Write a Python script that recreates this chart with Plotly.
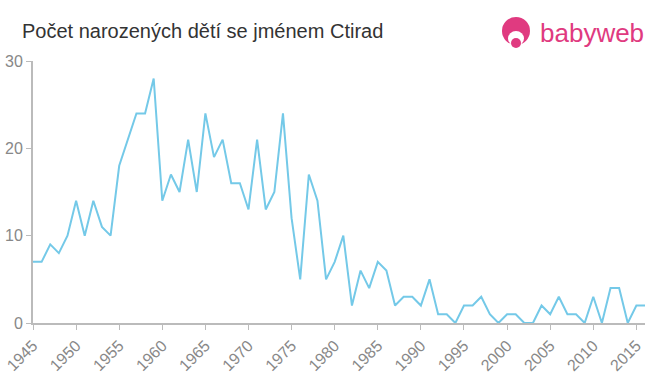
import plotly.graph_objects as go

years = list(range(1945, 2017))
counts = [7, 7, 9, 8, 10, 14, 10, 14, 11, 10,
          18, 21, 24, 24, 28, 14, 17, 15, 21, 15,
          24, 19, 21, 16, 16, 13, 21, 13, 15, 24,
          12, 5, 17, 14, 5, 7, 10, 2, 6, 4,
          7, 6, 2, 3, 3, 2, 5, 1, 1, 0,
          2, 2, 3, 1, 0, 1, 1, 0, 0, 2,
          1, 3, 1, 1, 0, 3, 0, 4, 4, 0,
          2, 2]
x_ticks = list(range(1945, 2020, 5))
y_ticks = [0, 10, 20, 30]

fig = go.Figure()
fig.add_trace(go.Scatter(x=years, y=counts, mode="lines",
                         line=dict(color="#74c9e8", width=2), hoverinfo="x+y"))

fig.update_layout(
    width=660, height=375,
    margin=dict(l=33, r=15, t=61, b=52, autoexpand=False),
    paper_bgcolor="white", plot_bgcolor="white",
    showlegend=False,
    font=dict(family="Liberation Sans, Arial, sans-serif", color="#888"),
)
fig.update_xaxes(range=[1945, 2016], tickvals=x_ticks, ticktext=[str(t) for t in x_ticks],
                 tickangle=-45, showgrid=False, zeroline=False, automargin=False,
                 showline=True, linecolor="#bbb", linewidth=2,
                 ticks="outside", tickcolor="#bbb", ticklen=5,
                 tickfont=dict(size=16, color="#888"))
fig.update_yaxes(range=[0, 30], tickvals=y_ticks, showgrid=False, zeroline=False, automargin=False,
                 showline=True, linecolor="#bbb", linewidth=2,
                 ticks="outside", tickcolor="#bbb", ticklen=5,
                 tickfont=dict(size=16, color="#888"))

fig.add_annotation(text="Počet narozených dětí se jménem Ctirad", xref="paper", yref="paper",
                   x=(20-33)/612, y=(375-31-52)/262, xanchor="left", yanchor="middle",
                   showarrow=False, font=dict(size=20, color="#333"))

# logo
def px(x):
    return (x - 33) / 612

def py(y):
    return (375 - y - 52) / 262

fig.add_shape(type="circle", xref="paper", yref="paper",
              x0=px(502), x1=px(530), y0=py(45), y1=py(17),
              fillcolor="#e03a80", line=dict(width=0))
fig.add_shape(type="circle", xref="paper", yref="paper",
              x0=px(508), x1=px(524), y0=py(46), y1=py(31),
              fillcolor="white", line=dict(width=0))
fig.add_shape(type="circle", xref="paper", yref="paper",
              x0=px(511), x1=px(521), y0=py(48), y1=py(38),
              fillcolor="#e03a80", line=dict(width=0))
fig.add_annotation(text="babyweb", xref="paper", yref="paper",
                   x=px(538), y=py(33), xanchor="left", yanchor="middle",
                   showarrow=False, font=dict(size=26, color="#e03a80"))

fig.write_html("out.html", config={"displayModeBar": False},
               post_script="document.body.style.margin='0px';document.body.style.padding='0px';")
